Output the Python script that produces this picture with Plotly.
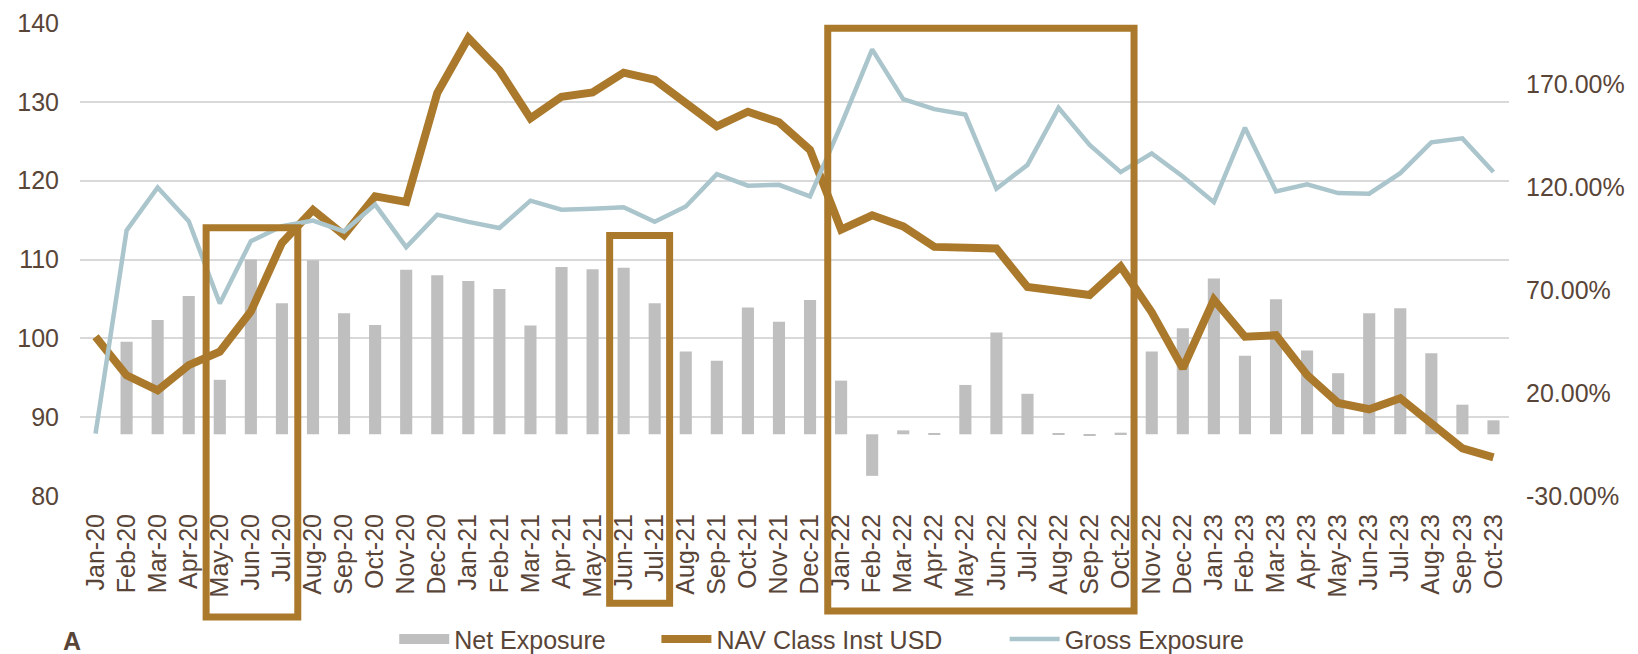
import plotly.graph_objects as go

months = ["Jan-20","Feb-20","Mar-20","Apr-20","May-20","Jun-20","Jul-20","Aug-20","Sep-20","Oct-20","Nov-20","Dec-20",
          "Jan-21","Feb-21","Mar-21","Apr-21","May-21","Jun-21","Jul-21","Aug-21","Sep-21","Oct-21","Nov-21","Dec-21",
          "Jan-22","Feb-22","Mar-22","Apr-22","May-22","Jun-22","Jul-22","Aug-22","Sep-22","Oct-22","Nov-22","Dec-22",
          "Jan-23","Feb-23","Mar-23","Apr-23","May-23","Jun-23","Jul-23","Aug-23","Sep-23","Oct-23"]

# Net exposure (%), right axis
net_exposure = [0.0, 45.0, 55.6, 67.3, 26.5, 85.0, 63.7, 84.6, 58.9, 53.2, 80.0, 77.3,
                74.5, 70.7, 52.9, 81.3, 80.2, 81.0, 63.7, 40.3, 35.8, 61.6, 54.7, 65.3,
                26.1, -20.2, 1.9, 0.3, 24.0, 49.5, 19.7, 0.5, -0.5, 0.8, 40.3, 51.6,
                75.8, 38.2, 65.7, 40.7, 29.7, 58.9, 61.3, 39.4, 14.4, 6.8]

# NAV Class Inst USD, left axis
nav = [100.2, 95.3, 93.4, 96.6, 98.3, 103.4, 112.1, 116.3, 113.1, 118.0, 117.3, 131.1,
       138.1, 134.0, 127.9, 130.65, 131.2, 133.7, 132.8, 129.8, 126.9, 128.75, 127.4, 123.9,
       113.8, 115.6, 114.2, 111.6, 111.4, 111.4, 106.5, 106.0, 105.5, 109.1, 103.3, 96.2,
       104.9, 100.2, 100.4, 95.35, 91.8, 91.0, 92.4, 89.2, 86.05, 84.9]

# Gross exposure (%), right axis
gross = [0.3, 99.1, 120.0, 103.6, 63.6, 93.9, 101.2, 103.9, 98.7, 111.7, 91.0, 106.8,
         103.3, 100.3, 113.6, 109.2, 109.7, 110.4, 103.3, 110.8, 126.5, 120.9, 121.3, 115.7,
         150.4, 187.2, 163.0, 158.1, 155.5, 119.4, 131.0, 158.8, 140.7, 127.5, 136.6, 125.4,
         112.9, 149.1, 118.1, 121.6, 117.3, 117.0, 127.0, 142.0, 143.9, 127.5]

left_ticks = [80, 90, 100, 110, 120, 130, 140]
right_ticks = [-30, 20, 70, 120, 170]
right_labels = [f"{v:.2f}%" for v in right_ticks]

# highlight boxes: (first month, last month, left pad, right pad, top (paper), bottom (paper))
boxes = [("May-20", "Jul-20", 0.44, 0.51, 0.567, -0.256),
         ("Jun-21", "Jul-21", 0.45, 0.48, 0.551, -0.227),
         ("Jan-22", "Oct-22", 0.43, 0.43, 0.989, -0.243)]

GOLD = "#AB792B"
BLUE = "#ABC5CC"
GRAY = "#BFBFBF"
TXT = "#594538"
FONT = "Liberation Sans, Arial, sans-serif"

fig = go.Figure()
fig.add_trace(go.Bar(x=months, y=net_exposure, name="Net Exposure", marker_color=GRAY,
                     marker_line_width=0, yaxis="y", showlegend=False))
# legend key for the bar series (wide grey block, as in the original)
fig.add_trace(go.Scatter(x=[None], y=[None], name="Net Exposure", mode="lines",
                         line=dict(color=GRAY, width=15), yaxis="y", legend="legend"))
fig.add_trace(go.Scatter(x=months, y=nav, name="NAV Class Inst USD", mode="lines",
                         line=dict(color=GOLD, width=8), yaxis="y2", legend="legend2"))
fig.add_trace(go.Scatter(x=months, y=gross, name="Gross Exposure", mode="lines",
                         line=dict(color=BLUE, width=4.5), yaxis="y3", legend="legend3"))

for first, last, lp, rp, top, bot in boxes:
    i0 = months.index(first) - lp
    i1 = months.index(last) + rp
    fig.add_shape(type="rect", xref="x", yref="paper", x0=i0, x1=i1, y0=bot, y1=top,
                  line=dict(color=GOLD, width=7), layer="above")

fig.add_annotation(text="<b>A</b>", xref="paper", yref="paper", x=-0.013, y=-0.273,
                   xanchor="left", yanchor="top", showarrow=False,
                   font=dict(size=25, color=TXT, family=FONT))

def leg(xpix):
    return dict(orientation="h", x=(xpix - 80) / 1428, xanchor="left", y=-0.303,
                yanchor="middle", font=dict(size=25, color=TXT), itemwidth=50,
                bgcolor="rgba(0,0,0,0)")

# the page body adds an 8px offset, so the figure is 8px smaller and margins shifted
fig.update_layout(
    width=1630, height=646,
    margin=dict(l=72, r=129, t=15, b=158, autoexpand=False),
    paper_bgcolor="white", plot_bgcolor="white",
    font=dict(family=FONT, size=25, color=TXT),
    bargap=0.61,
    showlegend=True,
    legend=leg(394),
    legend2=leg(656),
    legend3=leg(1004),
    xaxis=dict(type="category", categoryorder="array", categoryarray=months,
               range=[-0.5, len(months) - 0.5], tickangle=-90, showgrid=False,
               showline=False, zeroline=False, ticks="", ticklabelstandoff=12,
               tickfont=dict(size=25, color=TXT)),
    yaxis=dict(side="right", range=[-30, 200], tickvals=right_ticks, ticktext=right_labels,
               showgrid=False, zeroline=False, showline=False, ticks="",
               ticklabelstandoff=16, tickfont=dict(size=25, color=TXT)),
    yaxis2=dict(overlaying="y", side="left", range=[80, 140], tickvals=left_ticks,
                showgrid=True, gridcolor="#D9D9D9", gridwidth=1.5, zeroline=False,
                showline=False, ticks="", ticklabelstandoff=20,
                tickfont=dict(size=25, color=TXT)),
    yaxis3=dict(overlaying="y", range=[-30, 200], visible=False),
)

fig.write_html("out.html")
